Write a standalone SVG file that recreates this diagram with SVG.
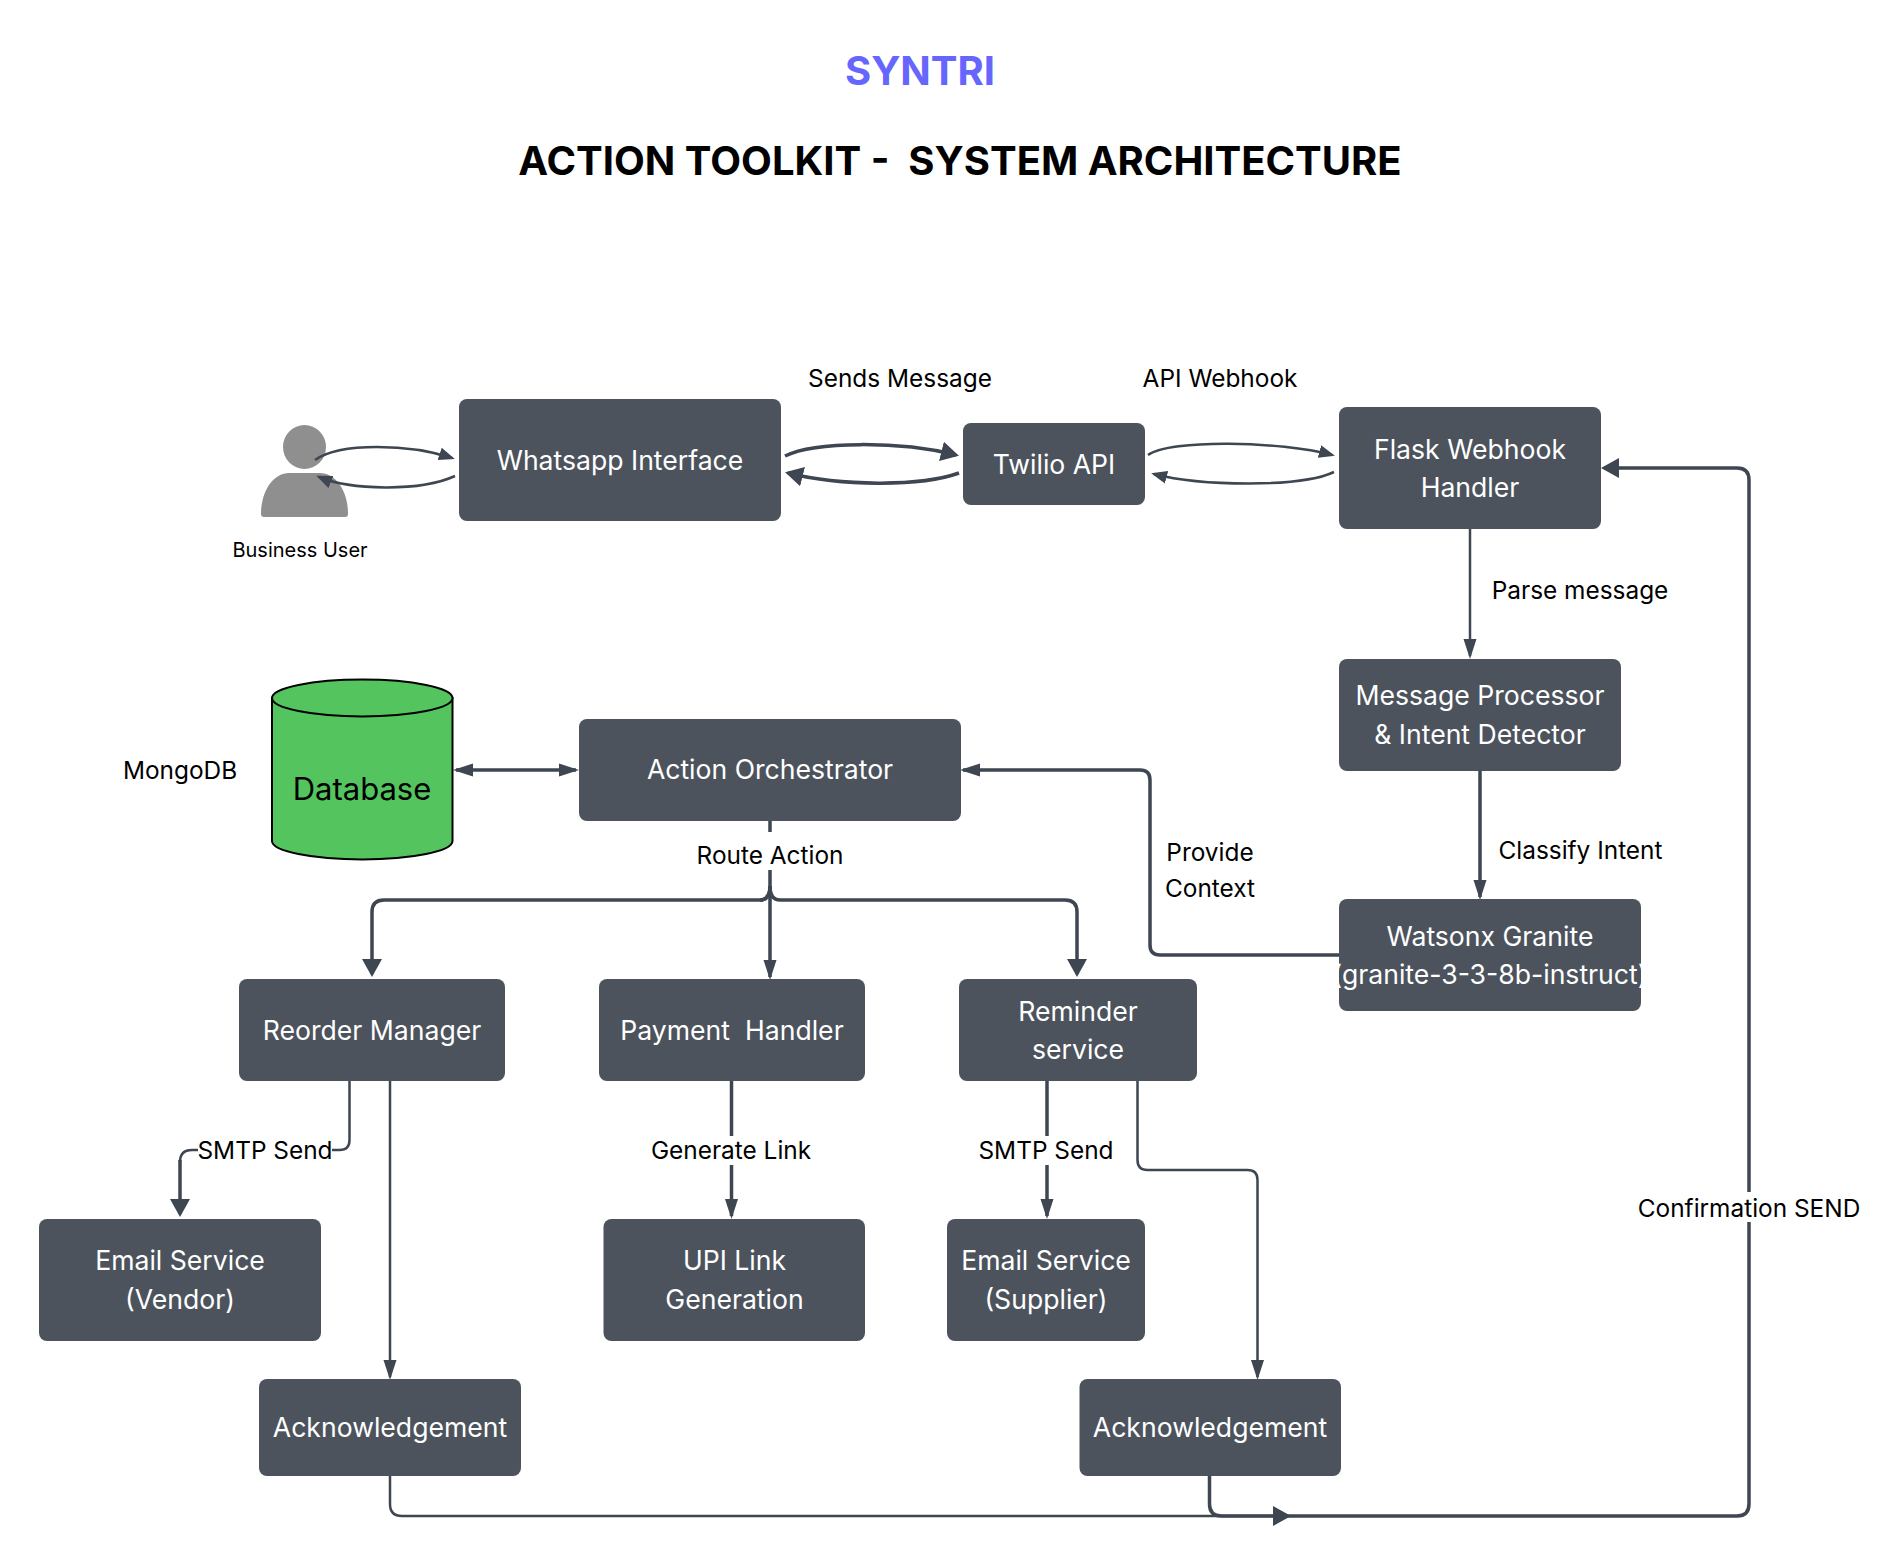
<svg xmlns="http://www.w3.org/2000/svg" width="1901" height="1564" viewBox="0 0 1901 1564">
<style>
text{font-family:"Inter","Liberation Sans",sans-serif;text-anchor:middle;dominant-baseline:central;white-space:pre}
.n{fill:#4c535d}
.nt{fill:#fff;font-size:26.6px}
.l{fill:#000;font-size:24.4px}
.c{fill:none;stroke:#3e4652;stroke-width:3.5}
.t{stroke-width:2.5}
.b{marker-end:url(#big)}
.s{marker-end:url(#slim)}
.m{marker-end:url(#mini)}
.bg{fill:#fff}
</style>
<defs>
<marker id="big" markerUnits="userSpaceOnUse" markerWidth="20" markerHeight="22" refX="15" refY="11" orient="auto"><path d="M0,1 L18,11 L0,21 Z" fill="#3e4652"/></marker>
<marker id="slim" markerUnits="userSpaceOnUse" markerWidth="22" markerHeight="15" refX="17" refY="7.5" orient="auto-start-reverse"><path d="M0,1 L20,7.5 L0,14 Z" fill="#3e4652"/></marker>
<marker id="mini" markerUnits="userSpaceOnUse" markerWidth="18" markerHeight="15" refX="13" refY="7.5" orient="auto"><path d="M0,1 L16,7.5 L0,14 Z" fill="#3e4652"/></marker>
</defs>
<rect width="1901" height="1564" fill="#fff"/>
<text x="920" y="70" style="font-size:40px;font-weight:650;fill:#6666ff">SYNTRI</text>
<text x="960" y="160" style="font-size:40px;font-weight:700;fill:#000">ACTION TOOLKIT -  SYSTEM ARCHITECTURE</text>
<g id="user">
<ellipse cx="304.500" cy="447" rx="21.500" ry="22" fill="#8f8f8f"/>
<path d="M261,514 Q261,517 264,517 L345,517 Q348,517 348,514 C348,490 335,473 320,473 L289,473 C274,473 261,490 261,514 Z" fill="#8f8f8f"/>
<text x="300" y="550" style="font-size:20px;fill:#000">Business User</text>
</g>
<g id="connectors">
<path class="c t m" d="M315,460 C340,442 410,444 452,458"/>
<path class="c t m" d="M455,476 C420,492 350,490 319,477"/>
<path class="c b" d="M785,456 C815,441 900,441 956,455"/>
<path class="c b" d="M959,473 C920,487 840,486 788,473"/>
<path class="c t m" d="M1148,455 C1170,439 1280,441 1332,455"/>
<path class="c t m" d="M1334,472 C1300,488 1200,486 1154,474"/>
<path class="c t s" d="M1470,529 L1470,656"/>
<path class="c s" d="M1480,771 L1480,897"/>
<path class="c s" d="M1339,955 L1160,955 Q1150,955 1150,945 L1150,780 Q1150,770 1140,770 L963,770"/>
<path class="c" style="marker-start:url(#slim);marker-end:url(#slim)" d="M456,770 L576,770"/>
<path class="c" d="M770,821 L770,886 Q770,900 760,900"/>
<path class="c b" d="M770,886 Q770,900 760,900 L384,900 Q372,900 372,912 L372,974"/>
<path class="c s" d="M770,886 L770,977"/>
<path class="c b" d="M770,886 Q770,900 780,900 L1065,900 Q1077,900 1077,912 L1077,974"/>
<path class="c t" d="M349.5,1081 L349.5,1140 Q349.5,1150 339.500,1150 L192,1150 Q180,1150 180,1162"/>
<path class="c b" d="M180,1160 L180,1214"/>
<path class="c t s" d="M390,1081 L390,1377"/>
<path class="c s" d="M731.500,1081 L731.500,1216"/>
<path class="c s" d="M1047,1081 L1047,1216"/>
<path class="c t s" d="M1137.500,1081 L1137.500,1160 Q1137.500,1170 1147.500,1170 L1247.500,1170 Q1257.500,1170 1257.500,1180 L1257.500,1377"/>
<path class="c t b" d="M390,1476 L390,1504 Q390,1516 402,1516 L1288,1516"/>
<path class="c b" d="M1209.500,1476 L1209.500,1504 Q1209.500,1516 1221.500,1516 L1737,1516 Q1749,1516 1749,1504 L1749,480 Q1749,468 1737,468 L1604,468"/>
<rect class="bg" x="690" y="832" width="160" height="38"/>
<rect class="bg" x="198" y="1136" width="134" height="29"/>
<rect class="bg" x="645" y="1136" width="172" height="29"/>
<rect class="bg" x="975" y="1136" width="142" height="29"/>
<rect class="bg" x="1630" y="1192" width="238" height="30"/>
</g>
<g id="labels">
<text class="l" x="900" y="378">Sends Message</text>
<text class="l" x="1220" y="378">API Webhook</text>
<text class="l" x="1580" y="590">Parse message</text>
<text class="l" x="1580.500" y="850">Classify Intent</text>
<text class="l" x="1210" y="852">Provide</text>
<text class="l" x="1210" y="888">Context</text>
<text class="l" x="180" y="770">MongoDB</text>
<text class="l" x="770" y="855">Route Action</text>
<text class="l" x="265" y="1150">SMTP Send</text>
<text class="l" x="731" y="1150">Generate Link</text>
<text class="l" x="1046" y="1150">SMTP Send</text>
<text class="l" x="1749" y="1208">Confirmation SEND</text>
</g>
<g id="database">
<path d="M272,698 L272,841 A90.250,18.500 0 0 0 452.500,841 L452.500,698 Z" fill="#54c45e" stroke="#000" stroke-width="2"/>
<ellipse cx="362.250" cy="698" rx="90.250" ry="18.500" fill="#54c45e" stroke="#000" stroke-width="2"/>
<text x="362" y="788" style="font-size:31px;fill:#000">Database</text>
</g>
<g id="whatsapp"><rect class="n" x="459" y="399" width="322" height="122" rx="8"/><text class="nt" x="620" y="460">Whatsapp Interface</text></g>
<g id="twilio"><rect class="n" x="963" y="423" width="182" height="82" rx="8"/><text class="nt" x="1054" y="464">Twilio API</text></g>
<g id="flask"><rect class="n" x="1339" y="407" width="262" height="122" rx="8"/><text class="nt" x="1470" y="449">Flask Webhook</text><text class="nt" x="1470" y="487">Handler</text></g>
<g id="processor"><rect class="n" x="1339" y="659" width="282" height="112" rx="8"/><text class="nt" x="1480" y="695">Message Processor</text><text class="nt" x="1480" y="734">&amp; Intent Detector</text></g>
<g id="watsonx"><rect class="n" x="1339" y="899" width="302" height="112" rx="8"/><text class="nt" x="1490" y="936">Watsonx Granite</text><text class="nt" x="1490" y="974">(granite-3-3-8b-instruct)</text></g>
<g id="orchestrator"><rect class="n" x="579" y="719" width="382" height="102" rx="8"/><text class="nt" x="770" y="769">Action Orchestrator</text></g>
<g id="reorder"><rect class="n" x="239" y="979" width="266" height="102" rx="8"/><text class="nt" x="372" y="1030">Reorder Manager</text></g>
<g id="payment"><rect class="n" x="599" y="979" width="266" height="102" rx="8"/><text class="nt" x="732" y="1030">Payment  Handler</text></g>
<g id="reminder"><rect class="n" x="959" y="979" width="238" height="102" rx="8"/><text class="nt" x="1078" y="1011">Reminder</text><text class="nt" x="1078" y="1049">service</text></g>
<g id="email-vendor"><rect class="n" x="39" y="1219" width="282" height="122" rx="8"/><text class="nt" x="180" y="1260">Email Service</text><text class="nt" x="180" y="1299">(Vendor)</text></g>
<g id="upi"><rect class="n" x="603.500" y="1219" width="261.500" height="122" rx="8"/><text class="nt" x="734.500" y="1260">UPI Link</text><text class="nt" x="734.500" y="1299">Generation</text></g>
<g id="email-supplier"><rect class="n" x="947" y="1219" width="198" height="122" rx="8"/><text class="nt" x="1046" y="1260">Email Service</text><text class="nt" x="1046" y="1299">(Supplier)</text></g>
<g id="ack-1"><rect class="n" x="259" y="1379" width="262" height="97" rx="8"/><text class="nt" x="390" y="1427">Acknowledgement</text></g>
<g id="ack-2"><rect class="n" x="1079.500" y="1379" width="261.500" height="97" rx="8"/><text class="nt" x="1210" y="1427">Acknowledgement</text></g>
</svg>
